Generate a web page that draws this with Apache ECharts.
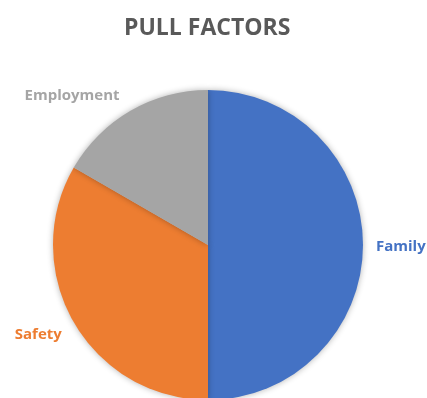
<!DOCTYPE html>
<html>
<head>
<meta charset="utf-8">
<script src="https://cdn.jsdelivr.net/npm/echarts@6/dist/echarts.min.js"></script>
<style>
html,body{margin:0;padding:0;background:#fff;}
#chart{width:427px;height:398px;}
</style>
</head>
<body>
<div id="chart"></div>
<script>
// Reasons people are drawn to move
const categories = ['Family', 'Safety', 'Employment'];
const values = [3, 2, 1];
const colors = ['#4472C4', '#ED7D31', '#A5A5A5'];
// small nudges for each outside label
const labelNudge = [[0, 2], [0, 8], [-2, -8]];

const chart = echarts.init(document.getElementById('chart'));
chart.setOption({
  animation: false,
  title: {
    text: 'PULL FACTORS',
    left: 119,
    top: 12,
    textStyle: { fontFamily: 'Open Sans', fontSize: 23, fontWeight: 'bold', color: '#595959' }
  },
  series: [{
    type: 'pie',
    center: [208, 245],
    radius: 155,
    startAngle: 90,
    clockwise: true,
    data: categories.map((c, i) => ({
      name: c,
      value: values[i],
      itemStyle: { color: colors[i] },
      label: { color: colors[i] }
    })),
    itemStyle: { shadowBlur: 6, shadowColor: 'rgba(0,0,0,0.3)' },
    label: {
      show: true,
      position: 'outside',
      formatter: '{b}',
      overflow: 'none',
      fontFamily: 'Open Sans',
      fontSize: 15,
      fontWeight: 'bold'
    },
    labelLine: { show: false, length: 8, length2: 0 },
    labelLayout: p => ({ dx: labelNudge[p.dataIndex][0], dy: labelNudge[p.dataIndex][1] }),
    emphasis: { disabled: true }
  }]
});
</script>
</body>
</html>
